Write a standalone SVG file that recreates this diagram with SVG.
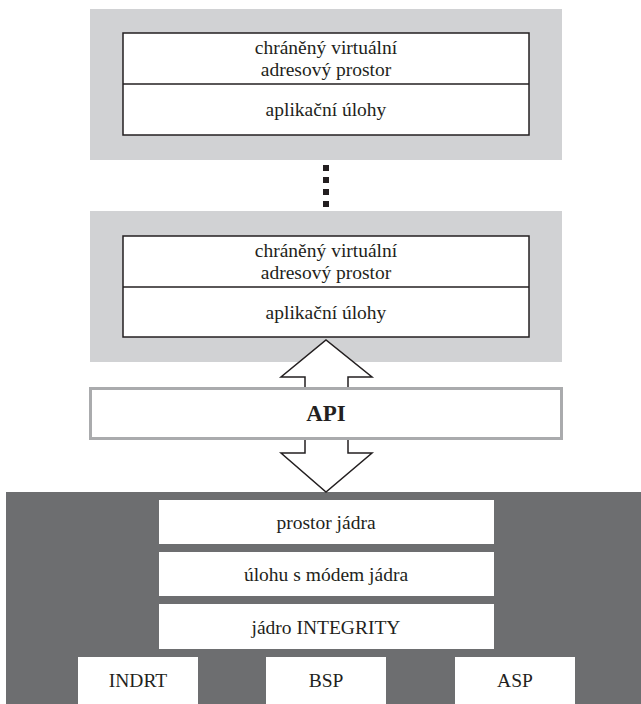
<svg xmlns="http://www.w3.org/2000/svg" width="641" height="704" viewBox="0 0 641 704">
<style>
.bg{fill:#d1d2d4}
.dark{fill:#6d6e70}
.inner{fill:#fff;stroke:#231f20;stroke-width:1.5}
.wbox{fill:#fff}
.t{font-family:"Liberation Serif","DejaVu Serif",serif;font-size:19.5px;fill:#231f20;text-anchor:middle}
.api{font-family:"Liberation Serif","DejaVu Serif",serif;font-size:23px;font-weight:bold;fill:#231f20;text-anchor:middle}
.arrow{fill:#fff;stroke:#231f20;stroke-width:1.5;stroke-linejoin:miter}
.dot{fill:#231f20}
</style>
<rect x="0" y="0" width="641" height="704" fill="#fff"/>
<g id="partition1">
<rect class="bg" x="90" y="9" width="472" height="151"/>
<rect class="inner" x="123" y="33" width="406" height="102"/>
<line x1="123" y1="84" x2="529" y2="84" stroke="#231f20" stroke-width="1.5"/>
<text class="t" x="326" y="54">chráněný virtuální</text>
<text class="t" x="326" y="76">adresový prostor</text>
<text class="t" x="326" y="116">aplikační úlohy</text>
</g>
<g id="ellipsis">
<rect class="dot" x="323" y="165" width="6" height="6"/>
<rect class="dot" x="323" y="177" width="6" height="6"/>
<rect class="dot" x="323" y="189" width="6" height="6"/>
<rect class="dot" x="323" y="201" width="6" height="6"/>
</g>
<g id="partition2">
<rect class="bg" x="90" y="211" width="472" height="151"/>
<rect class="inner" x="123" y="236" width="406" height="101"/>
<line x1="123" y1="287" x2="529" y2="287" stroke="#231f20" stroke-width="1.5"/>
<text class="t" x="326" y="257">chráněný virtuální</text>
<text class="t" x="326" y="279">adresový prostor</text>
<text class="t" x="326" y="319">aplikační úlohy</text>
</g>
<g id="kernel">
<rect class="dark" x="6" y="492" width="635" height="212"/>
</g>
<g id="connectors">
<path class="arrow" d="M305,390 L305,377 L281,377 L326,340 L372,377 L348,377 L348,390"/>
<path class="arrow" d="M305,437 L305,453 L281,453 L326,492 L372,453 L348,453 L348,437"/>
</g>
<g id="api">
<rect x="90.5" y="388.5" width="471" height="50" fill="#fff" stroke="#aaabad" stroke-width="3"/>
<text class="api" x="326" y="421">API</text>
</g>
<g id="kernel-space">
<rect class="wbox" x="159" y="500" width="335" height="44"/>
<text class="t" x="326" y="529">prostor jádra</text>
</g>
<g id="kernel-task">
<rect class="wbox" x="159" y="552" width="335" height="44"/>
<text class="t" x="326" y="581">úlohu s módem jádra</text>
</g>
<g id="integrity-kernel">
<rect class="wbox" x="159" y="604" width="335" height="45"/>
<text class="t" x="326" y="634">jádro INTEGRITY</text>
</g>
<g id="indrt">
<rect class="wbox" x="78" y="657" width="120" height="47"/>
<text class="t" x="138" y="687">INDRT</text>
</g>
<g id="bsp">
<rect class="wbox" x="266" y="657" width="120" height="47"/>
<text class="t" x="326" y="687">BSP</text>
</g>
<g id="asp">
<rect class="wbox" x="455" y="657" width="120" height="47"/>
<text class="t" x="515" y="687">ASP</text>
</g>
</svg>
